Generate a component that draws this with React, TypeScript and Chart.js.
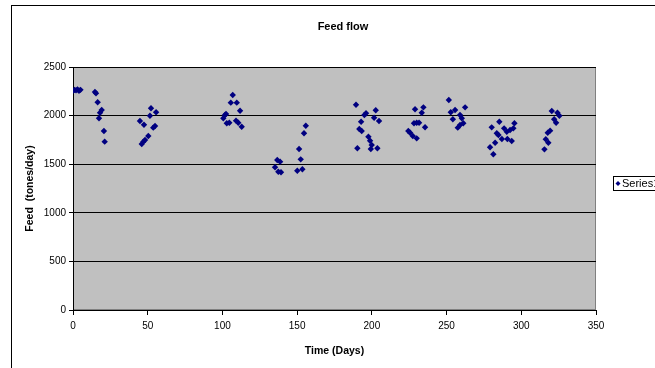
import React, { useEffect, useRef } from "react";
import { Chart, registerables } from "chart.js";

Chart.register(...registerables);

const chartTitle = "Feed flow";
const xAxisTitle = "Time (Days)";
const yAxisTitle = "Feed  (tones/day)";
const seriesName = "Series1";

const days = [
  0, 1, 2, 3, 4, 5,
  14.7, 15.4, 16.5, 19.2, 18.1, 17.4, 20.7, 21.2,
  52.2, 55.6, 51.5, 44.8, 47.5, 53.7, 54.9, 50.4, 48.2, 47.1, 46.0,
  106.9, 105.6, 109.6, 111.8, 101.7, 100.6, 102.9, 104.6, 109.1, 110.6, 112.9, 102.4,
  136.7, 138.6, 135.2, 137.4, 139.2, 151.3, 152.4, 150.1, 153.5, 154.6, 155.8,
  189.4, 195, 196.1, 202.6, 201.5, 204.8, 192.8, 191.6, 193.2, 197.7, 198.8, 190.3, 199.9, 199.3, 203.7,
  228.9, 230, 228.2, 224.4, 225.6, 227.4, 230, 234.5, 233.4, 231.6, 235.6,
  251.5, 252.8, 255.7, 262.4, 259, 254.2, 260.2, 261.2, 259, 257.5,
  280.2, 285.3, 283.6, 284.7, 282.5, 279.1, 281.3, 288.5, 290.3, 287, 290.7, 293.6, 292.5, 294.7, 295.4,
  320.4, 324.2, 325.5, 322, 323.3, 319.3, 317.7, 316.4, 318.1, 315.5,
];

const feed = [
  2255, 2265, 2260, 2270, 2255, 2265,
  2243, 2229, 2137, 2058, 2030, 1972, 1842, 1732,
  2075, 2034, 1999, 1944, 1906, 1876, 1893, 1790, 1749, 1732, 1708,
  2212, 2133, 2133, 2050, 2006, 1972, 1921, 1927, 1948, 1927, 1886, 2016,
  1543, 1526, 1468, 1423, 1417, 1656, 1550, 1433, 1448, 1818, 1896,
  2112, 2006, 2024, 2055, 1978, 1944, 1937, 1862, 1842, 1783, 1742, 1664, 1698, 1656, 1664,
  2065, 1927, 1921, 1842, 1824, 1790, 1766, 2085, 2030, 1927, 1880,
  2160, 2034, 2058, 2085, 2006, 1962, 1972, 1921, 1903, 1876,
  1879, 1937, 1818, 1800, 1721, 1674, 1602, 1869, 1834, 1759, 1759, 1739, 1852, 1869, 1921,
  2047, 2030, 1999, 1962, 1927, 1845, 1824, 1756, 1721, 1653,
];

const xTicks = [0, 50, 100, 150, 200, 250, 300, 350];
const yTicks = [0, 500, 1000, 1500, 2000, 2500];

const FONT = "'Liberation Sans', Arial, sans-serif";
const MARKER = "#000080";

const framePlugin = {
  id: "framePlugin",
  beforeDraw(chart: any) {
    const { ctx, chartArea: a } = chart;
    ctx.save();
    ctx.fillStyle = "#ffffff";
    ctx.fillRect(0, 0, chart.width, chart.height);
    ctx.strokeStyle = "#000000";
    ctx.lineWidth = 1;
    ctx.strokeRect(11.5, 5.5, chart.width, chart.height);
    ctx.fillStyle = "#c0c0c0";
    ctx.fillRect(a.left, a.top, a.right - a.left, a.bottom - a.top);
    ctx.strokeStyle = "#808080";
    ctx.strokeRect(a.left + 0.5, a.top + 0.5, a.right - a.left - 1, a.bottom - a.top - 1);
    ctx.restore();
  },
  afterDraw(chart: any) {
    const { ctx, chartArea: a } = chart;
    ctx.save();
    // title
    ctx.fillStyle = "#000";
    ctx.font = `bold 11px ${FONT}`;
    ctx.textAlign = "center";
    ctx.textBaseline = "middle";
    ctx.fillText(chartTitle, 343, 27);
    // legend
    const bx = a.right + 17.5;
    const by = 176.5;
    ctx.fillStyle = "#fff";
    ctx.fillRect(bx, by, 70, 14);
    ctx.strokeStyle = "#000";
    ctx.lineWidth = 1;
    ctx.strokeRect(bx, by, 70, 14);
    const cx = bx + 4.5;
    const cy = by + 7;
    ctx.fillStyle = MARKER;
    ctx.beginPath();
    ctx.moveTo(cx - 2.5, cy);
    ctx.lineTo(cx, cy - 2.5);
    ctx.lineTo(cx + 2.5, cy);
    ctx.lineTo(cx, cy + 2.5);
    ctx.closePath();
    ctx.fill();
    ctx.fillStyle = "#000";
    ctx.font = `11px ${FONT}`;
    ctx.textAlign = "left";
    ctx.textBaseline = "middle";
    ctx.fillText(seriesName, cx + 4, cy + 0.5);
    ctx.restore();
  },
};

export default function App() {
  const ref = useRef<HTMLCanvasElement | null>(null);

  useEffect(() => {
    if (!ref.current) return;
    const points = days.map((d, i) => ({ x: d, y: feed[i] }));
    const chart = new Chart(ref.current, {
      type: "scatter",
      data: {
        datasets: [
          {
            label: seriesName,
            data: points,
            pointStyle: "rectRot",
            pointRadius: 3.2,
            pointHoverRadius: 3.2,
            borderWidth: 0,
            backgroundColor: MARKER,
            borderColor: MARKER,
          },
        ],
      },
      options: {
        animation: false,
        responsive: false,
        devicePixelRatio: 1,
        layout: { padding: { left: 0, top: 67, right: 104, bottom: 38 } },
        plugins: {
          legend: { display: false },
          title: { display: false },
          tooltip: { enabled: false },
        },
        scales: {
          x: {
            type: "linear",
            min: 0,
            max: 350,
            afterBuildTicks: (s: any) => {
              s.ticks = xTicks.map((v) => ({ value: v }));
            },
            afterFit: (s: any) => {
              s.height = 52;
            },
            ticks: {
              autoSkip: false,
              maxRotation: 0,
              color: "#000",
              font: { family: FONT, size: 10 },
              padding: 5,
              callback: (v: any) => String(v),
            },
            grid: {
              drawOnChartArea: false,
              drawTicks: true,
              tickLength: 5,
              color: "#000",
            },
            border: { color: "#000", width: 1 },
            title: {
              display: true,
              text: xAxisTitle,
              color: "#000",
              font: { family: FONT, size: 10.5, weight: "bold" },
              padding: { top: 0, bottom: 5 },
            },
          },
          y: {
            type: "linear",
            min: 0,
            max: 2500,
            afterBuildTicks: (s: any) => {
              s.ticks = yTicks.map((v) => ({ value: v }));
            },
            afterFit: (s: any) => {
              s.width = 73;
            },
            ticks: {
              color: "#000",
              font: { family: FONT, size: 10 },
              padding: 3,
              callback: (v: any) => String(v),
            },
            grid: {
              color: "#000",
              drawTicks: true,
              tickLength: 4,
            },
            border: { color: "#000", width: 1 },
            title: {
              display: true,
              text: yAxisTitle,
              color: "#000",
              font: { family: FONT, size: 10.5, weight: "bold" },
              padding: { top: 24, bottom: 0 },
            },
          },
        },
      },
      plugins: [framePlugin],
    });
    return () => chart.destroy();
  }, []);

  return (
    <div
      style={{
        position: "fixed",
        left: 0,
        top: 0,
        width: 655,
        height: 368,
        overflow: "hidden",
        background: "#fff",
      }}
    >
      <canvas ref={ref} width={700} height={400} style={{ display: "block" }} />
    </div>
  );
}
